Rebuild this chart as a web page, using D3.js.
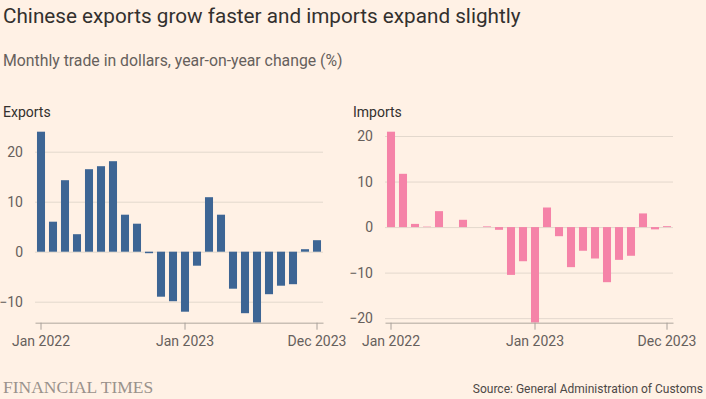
<!DOCTYPE html>
<html>
<head>
<meta charset="utf-8">
<script src="https://cdn.jsdelivr.net/npm/d3@7"></script>
<style>
  body { margin: 0; background: #fff1e5; }
  svg { display: block; font-family: Roboto, "Noto Sans", sans-serif; }
  .grid line { stroke: #e3d8cd; stroke-width: 1; }
  .tick-label { fill: #66605c; font-size: 14px; }
</style>
</head>
<body>
<div id="chart"></div>
<script>
var W = 706, H = 399;

// months Jan 2022 .. Dec 2023
var months = ["2022-01","2022-02","2022-03","2022-04","2022-05","2022-06","2022-07","2022-08","2022-09","2022-10","2022-11","2022-12",
              "2023-01","2023-02","2023-03","2023-04","2023-05","2023-06","2023-07","2023-08","2023-09","2023-10","2023-11","2023-12"];

var exportsVals = [24.0, 6.0, 14.3, 3.5, 16.5, 17.1, 18.1, 7.4, 5.6, -0.3, -9.0, -9.9,
                   -12.0, -2.8, 10.9, 7.4, -7.4, -12.3, -14.2, -8.5, -6.8, -6.5, 0.5, 2.3];

var importsVals = [20.95, 11.7, 0.7, 0.1, 3.5, 0.0, 1.6, 0.0, 0.15, -0.6, -10.5, -7.5,
                   -21.0, 4.3, -2.0, -8.8, -5.2, -6.9, -12.1, -7.2, -6.3, 3.0, -0.5, 0.2];

var xTickMonths = ["2022-01", "2023-01", "2023-12"];
var xTickLabels = {"2022-01": "Jan 2022", "2023-01": "Jan 2023", "2023-12": "Dec 2023"};

var exportsTicks = [20, 10, 0, -10];
var importsTicks = [20, 10, 0, -10, -20];

var svg = d3.select("#chart").append("svg")
    .attr("width", W)
    .attr("height", H);

svg.append("rect").attr("width", W).attr("height", H).attr("fill", "#fff1e5");

// TITLES

svg.append("text")
    .attr("x", 3).attr("y", 23)
    .attr("fill", "#33302e")
    .style("font-size", "20.7px")
    .text("Chinese exports grow faster and imports expand slightly");

svg.append("text")
    .attr("x", 3).attr("y", 66)
    .attr("fill", "#66605c")
    .style("font-size", "15.8px")
    .text("Monthly trade in dollars, year-on-year change (%)");

// PANELS

function panel(left, name, values, ticks, color) {

    var top = 131.7, bottom = 322.7, plotW = 288;

    var x = d3.scaleBand()
        .domain(months)
        .range([left, left + plotW])
        .paddingInner(0.33)
        .paddingOuter(0.165);

    var y = d3.scaleLinear()
        .domain([d3.min(values), d3.max(values)])
        .range([bottom, top]);

    var g = svg.append("g");

    g.append("text")
        .attr("x", left - 32).attr("y", 117)
        .attr("fill", "#33302e")
        .style("font-size", "14px")
        .text(name);

    // gridlines + y labels
    var yAxis = d3.axisLeft(y)
        .tickValues(ticks)
        .tickSize(-plotW)
        .tickFormat(d3.format("d"));

    var ya = g.append("g")
        .attr("class", "grid")
        .attr("transform", "translate(" + left + ",0)")
        .call(yAxis);
    ya.select(".domain").remove();
    ya.selectAll("text")
        .attr("class", "tick-label")
        .attr("x", -12)
        .attr("dy", "0.34em")
        .style("font-family", "Roboto, sans-serif");

    // bars
    g.selectAll(".bar")
        .data(values)
        .enter().append("rect")
        .attr("class", "bar")
        .attr("x", function(d, i) { return x(months[i]); })
        .attr("width", x.bandwidth())
        .attr("y", function(d) { return y(Math.max(0, d)); })
        .attr("height", function(d) { return Math.abs(y(d) - y(0)); })
        .attr("fill", color);

    // x axis
    var xAxis = d3.axisBottom(x)
        .tickValues(xTickMonths)
        .tickSize(7)
        .tickSizeOuter(0)
        .tickFormat(function(d) { return xTickLabels[d]; });

    var xa = g.append("g")
        .attr("transform", "translate(0," + bottom + ")")
        .call(xAxis);
    xa.select(".domain").attr("stroke", "#c9bfb5").attr("stroke-width", 1.5);
    xa.selectAll(".tick line").attr("stroke", "#a8a09a");
    xa.selectAll("text")
        .attr("class", "tick-label")
        .attr("y", 13)
        .attr("dy", "0.71em")
        .style("font-family", "Roboto, sans-serif");
}

panel(35, "Exports", exportsVals, exportsTicks, "#3d6594");
panel(385, "Imports", importsVals, importsTicks, "#f583a8");

// FOOTER

svg.append("text")
    .attr("x", 3).attr("y", 392.5)
    .attr("fill", "#9a928c")
    .style("font-family", "'Liberation Serif', 'DejaVu Serif', serif")
    .style("font-size", "17.5px")
    .text("FINANCIAL TIMES");

svg.append("text")
    .attr("x", 703).attr("y", 392.5)
    .attr("text-anchor", "end")
    .attr("fill", "#4d4845")
    .style("font-size", "12px")
    .text("Source: General Administration of Customs");
</script>
</body>
</html>
